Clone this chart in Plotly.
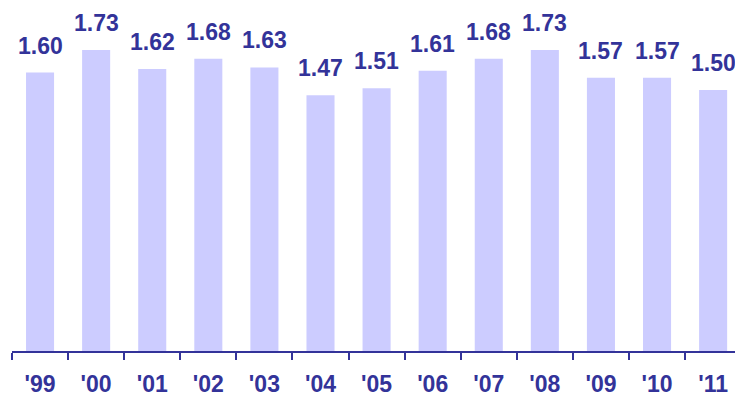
import plotly.graph_objects as go

years = ["'99", "'00", "'01", "'02", "'03", "'04", "'05", "'06", "'07", "'08", "'09", "'10", "'11"]
values = [1.60, 1.73, 1.62, 1.68, 1.63, 1.47, 1.51, 1.61, 1.68, 1.73, 1.57, 1.57, 1.50]

BAR = "#ccccff"
INK = "#333399"
FONT = "Liberation Sans, Arial, sans-serif"

fig = go.Figure(
    go.Bar(
        x=years,
        y=values,
        width=0.5,
        marker=dict(color=BAR, line=dict(width=0)),
        hoverinfo="skip",
    )
)

for yr, v in zip(years, values):
    fig.add_annotation(
        x=yr, y=v, text=f"{v:.2f}", showarrow=False,
        yanchor="bottom", yshift=12,
        font=dict(family=FONT, size=23, color=INK, weight="bold"),
    )

fig.update_layout(
    width=735, height=396,
    margin=dict(l=12, r=0, t=3, b=45),
    paper_bgcolor="white", plot_bgcolor="white",
    showlegend=False,
    xaxis=dict(
        type="category",
        range=[-0.5, 12.39],
        tickson="boundaries",
        ticks="outside", ticklen=7, tickwidth=1.5, tickcolor=INK,
        ticklabelstandoff=12,
        showline=True, linecolor=INK, linewidth=1.5,
        showgrid=False, zeroline=False,
        tickfont=dict(family=FONT, size=23, color=INK, weight="bold"),
    ),
    yaxis=dict(
        range=[0, 2], visible=False, showgrid=False, zeroline=False,
    ),
)

fig.write_html("out.html")
